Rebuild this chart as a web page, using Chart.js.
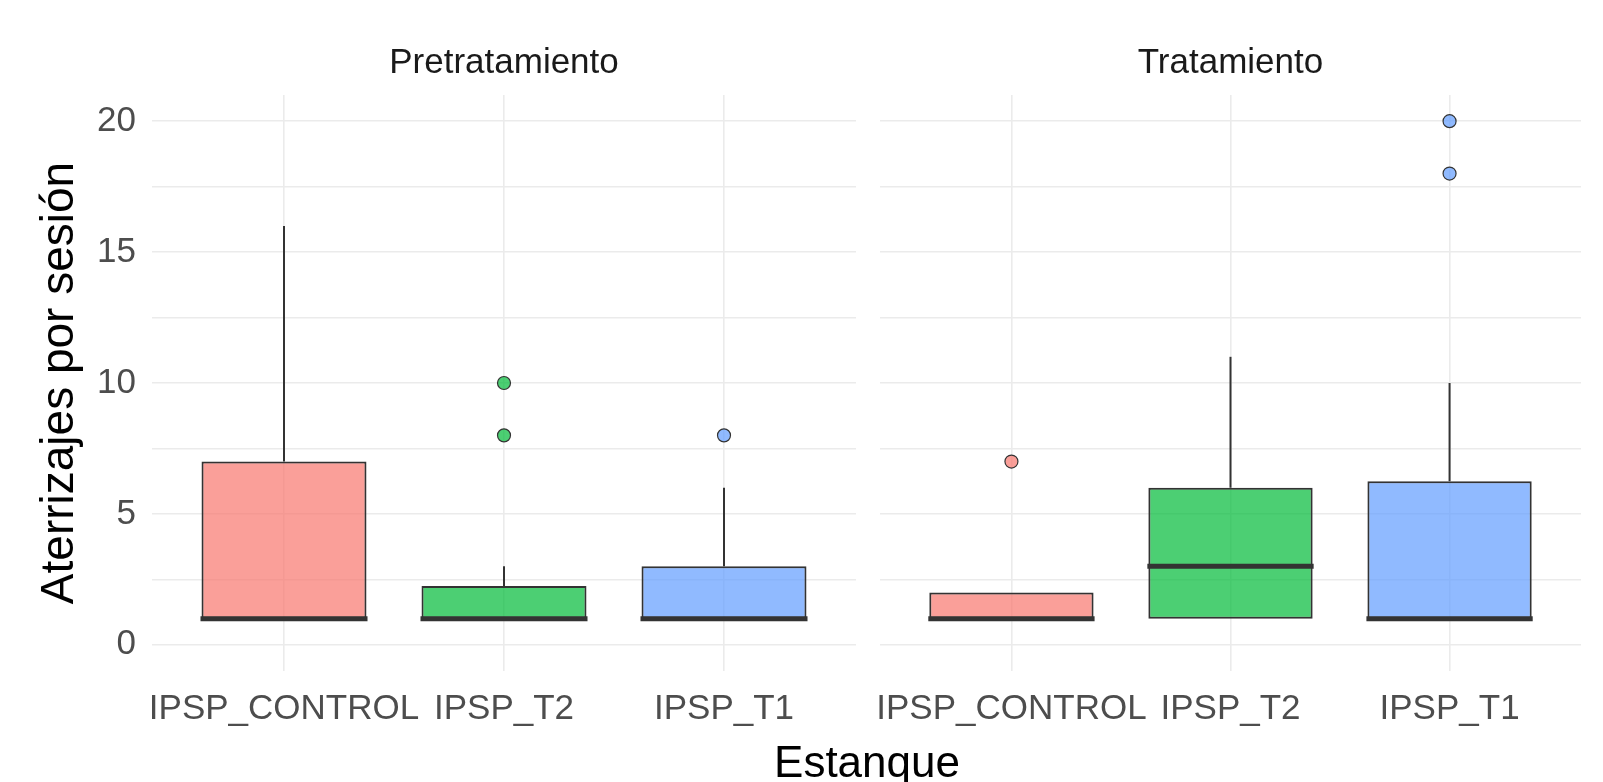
<!DOCTYPE html>
<html>
<head>
<meta charset="utf-8">
<script src="https://cdn.jsdelivr.net/npm/chart.js@4.4.0/dist/chart.umd.min.js"></script>
<style>
  html, body { margin: 0; padding: 0; background: #ffffff; }
  #wrap { position: relative; width: 1603px; height: 782px; overflow: hidden; background: #ffffff; }
  #pre  { position: absolute; left: 0; top: 0; }
  #post { position: absolute; left: 830px; top: 0; }
  #xtitle {
    position: absolute; left: 867px; top: 740px; transform: translateX(-50%);
    font-family: "Liberation Sans", Arial, sans-serif; font-size: 44px; line-height: 44px;
    color: #000000; white-space: nowrap;
  }
</style>
</head>
<body>
<div id="wrap">
  <canvas id="pre" width="868" height="782"></canvas>
  <canvas id="post" width="773" height="782"></canvas>
  <div id="xtitle">Estanque</div>
</div>
<script>
// Ponds (x categories) and the two periods (facets)
const ponds = ['IPSP_CONTROL', 'IPSP_T2', 'IPSP_T1'];
const periods = ['Pretratamiento', 'Tratamiento'];

// Box statistics, landings per session — Pretratamiento
const preLower   = [1, 1, 1];
const preQ1      = [1, 1, 1];
const preMedian  = [1, 1, 1];
const preQ3      = [7, 2.25, 3];
const preUpper   = [16, 3, 6];
const preOutliers = [[], [8, 10], [8]];

// Box statistics, landings per session — Tratamiento
const postLower   = [1, 1, 1];
const postQ1      = [1, 1, 1];
const postMedian  = [1, 3, 1];
const postQ3      = [2, 6, 6.25];
const postUpper   = [2, 11, 10];
const postOutliers = [[7], [], [18, 20]];

// Y axis: labelled ticks and the minor grid in between
const yLabelTicks = [0, 5, 10, 15, 20];
const yMinorTicks = [2.5, 7.5, 12.5, 17.5];

const FONT = '"Liberation Sans", Arial, sans-serif';
const fills = ['rgba(248,118,109,0.7)', 'rgba(0,186,56,0.7)', 'rgba(97,156,255,0.7)'];
const INK = '#333333';

// Whiskers behind the boxes, medians and strip label on top
const boxPlotPlugin = {
  id: 'boxStats',
  beforeDatasetsDraw(chart, args, opts) {
    const ctx = chart.ctx, y = chart.scales.y;
    const bars = chart.getDatasetMeta(0).data;
    ctx.save();
    ctx.strokeStyle = INK;
    ctx.lineWidth = 2;
    bars.forEach((bar, i) => {
      const x = bar.x;
      ctx.beginPath();
      ctx.moveTo(x, y.getPixelForValue(opts.q3[i]));
      ctx.lineTo(x, y.getPixelForValue(opts.upper[i]));
      ctx.moveTo(x, y.getPixelForValue(opts.q1[i]));
      ctx.lineTo(x, y.getPixelForValue(opts.lower[i]));
      ctx.stroke();
    });
    ctx.restore();
  },
  afterDatasetsDraw(chart, args, opts) {
    const ctx = chart.ctx, y = chart.scales.y;
    const bars = chart.getDatasetMeta(0).data;
    ctx.save();
    ctx.strokeStyle = INK;
    ctx.lineWidth = 5;
    ctx.lineCap = 'butt';
    bars.forEach((bar, i) => {
      const half = bar.width / 2 + 1;
      const py = y.getPixelForValue(opts.median[i]);
      ctx.beginPath();
      ctx.moveTo(bar.x - half, py);
      ctx.lineTo(bar.x + half, py);
      ctx.stroke();
    });
    // facet strip label
    const a = chart.chartArea;
    ctx.fillStyle = '#1A1A1A';
    ctx.font = '35px ' + FONT;
    ctx.textAlign = 'center';
    ctx.textBaseline = 'alphabetic';
    ctx.fillText(opts.strip, (a.left + a.right) / 2, 73);
    ctx.restore();
  }
};

function buildChart(canvasId, strip, q1, median, q3, lower, upper, outliers, showYAxis, yWidth, padRight) {
  const boxes = ponds.map((p, i) => ({ x: i + 1, y: [q1[i], q3[i]] }));
  const points = [];
  const pointFills = [];
  outliers.forEach((vals, i) => vals.forEach(v => { points.push({ x: i + 1, y: v }); pointFills.push(fills[i]); }));

  return new Chart(document.getElementById(canvasId), {
    type: 'bar',
    data: {
      datasets: [
        {
          type: 'bar', data: boxes, backgroundColor: fills, borderColor: INK, borderWidth: 2,
          borderSkipped: false, barPercentage: 0.75, categoryPercentage: 1, order: 2
        },
        {
          type: 'scatter', data: points, pointRadius: 6.5, pointHoverRadius: 6.5,
          pointBackgroundColor: pointFills, pointBorderColor: INK, pointBorderWidth: 1.2, order: 1
        }
      ]
    },
    options: {
      responsive: false,
      animation: false,
      events: [],
      layout: { padding: { left: 0, right: padRight, top: 95, bottom: 41 } },
      plugins: {
        legend: { display: false },
        tooltip: { enabled: false },
        title: { display: false },
        boxStats: { q1, median, q3, lower, upper, strip }
      },
      scales: {
        x: {
          type: 'linear', min: 0.4, max: 3.6, offset: false,
          afterBuildTicks: s => { s.ticks = ponds.map((_, i) => ({ value: i + 1 })); },
          afterFit: s => { s.height = 70; },
          ticks: {
            callback: v => ponds[Math.round(v) - 1],
            color: '#4D4D4D', font: { family: FONT, size: 35 }, padding: 17,
            maxRotation: 0, minRotation: 0, autoSkip: false
          },
          grid: { color: '#EBEBEB', lineWidth: 1.6, drawTicks: false, offset: false },
          border: { display: false }
        },
        y: {
          min: -1, max: 21,
          afterBuildTicks: s => {
            s.ticks = yLabelTicks.concat(yMinorTicks).sort((a, b) => a - b).map(v => ({ value: v }));
          },
          afterFit: s => { s.width = yWidth; },
          ticks: {
            display: showYAxis,
            callback: v => (yLabelTicks.includes(v) ? String(v) : ''),
            color: '#4D4D4D', font: { family: FONT, size: 35 }, padding: 16
          },
          grid: { color: '#EBEBEB', lineWidth: 1.6, drawTicks: false },
          border: { display: false },
          title: {
            display: showYAxis, text: 'Aterrizajes por sesión', color: '#000000',
            font: { family: FONT, size: 46 }, padding: { top: 33, bottom: 0 }
          }
        }
      }
    },
    plugins: [boxPlotPlugin]
  });
}

buildChart('pre', periods[0], preQ1, preMedian, preQ3, preLower, preUpper, preOutliers, true, 152, 12);
buildChart('post', periods[1], postQ1, postMedian, postQ3, postLower, postUpper, postOutliers, false, 50, 22);
</script>
</body>
</html>
